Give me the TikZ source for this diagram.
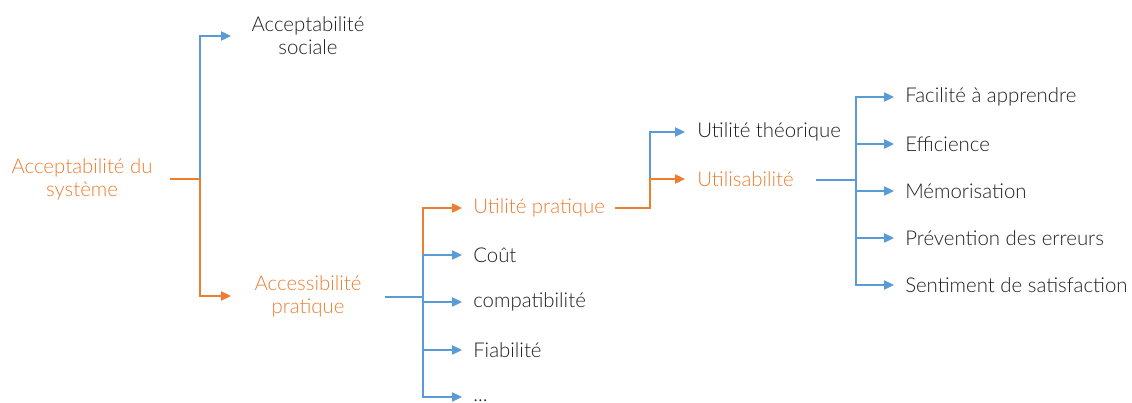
\documentclass[tikz,border=0pt]{standalone}
\usepackage{fontspec}
\setmainfont{Lato Light}
\usetikzlibrary{arrows.meta}
\definecolor{cblue}{HTML}{5B9BD5}
\definecolor{corange}{HTML}{ED7D31}
\definecolor{ctext}{HTML}{1F1F1F}
\tikzset{
  lbl/.style={inner sep=0pt, text=ctext, font=\fontsize{15.3}{17.2}\selectfont},
  hl/.style={text=corange},
  item/.style={lbl, anchor=west},
  bconn/.style={line width=0.9pt, draw=cblue, -{Triangle[length=7.5pt,width=7pt,fill=cblue]}},
  oconn/.style={line width=0.9pt, draw=corange, -{Triangle[length=7.5pt,width=7pt,fill=corange]}},
}
\begin{document}
\begin{tikzpicture}[x=0.75pt,y=-0.75pt]
\useasboundingbox (0,0) rectangle (1132,403);
% nodes
\node[lbl,hl,align=center] (root) at (82,179) {Acceptabilité du\\système};
\node[lbl,align=center] (soc) at (308,36) {Acceptabilité\\sociale};
\node[lbl,hl,align=center] (acc) at (308,296) {Accessibilité\\pratique};
\node[item,hl] (up) at (473,208) {Utilité pratique};
\node[item] (cout) at (473,255) {Coût};
\node[item] (compat) at (473,302) {compatibilité};
\node[item] (fiab) at (473,350) {Fiabilité};
\node[item] (dots) at (473,400.5) {...};
\node[item] (ut) at (697,132) {Utilité théorique};
\node[item,hl] (usab) at (697,179) {Utilisabilité};
\node[item] (fac) at (905,97) {Facilité à apprendre};
\node[item] (eff) at (905,144) {Efficience};
\node[item] (mem) at (905,191) {Mémorisation};
\node[item] (prev) at (905,238) {Prévention des erreurs};
\node[item] (sent) at (905,285) {Sentiment de satisfaction};
% junction / end coordinates
\coordinate (s1) at (170,179);
\coordinate (j1) at (200,179);
\coordinate (e1) at (231,0);
\coordinate (s2) at (385,297);
\coordinate (j2) at (423,297);
\coordinate (e2) at (462,0);
\coordinate (s3) at (615,208);
\coordinate (j3) at (650,208);
\coordinate (e3) at (685,0);
\coordinate (s4) at (816,180);
\coordinate (j4) at (856,180);
\coordinate (e4) at (894,0);
% level 1
\draw[bconn] (s1) -- (j1) |- (e1 |- soc);
\draw[oconn] (s1) -- (j1) |- (e1 |- acc);
% level 2
\draw[oconn] (s2) -- (j2) |- (e2 |- up);
\draw[bconn] (s2) -- (j2) |- (e2 |- cout);
\draw[bconn] (s2) -- (j2) |- (e2 |- compat);
\draw[bconn] (s2) -- (j2) |- (e2 |- fiab);
\draw[bconn] (s2) -- (j2) |- (e2 |- 0,397);
% level 3
\draw[bconn] (s3) -- (j3) |- (e3 |- ut);
\draw[oconn] (s3) -- (j3) |- (e3 |- usab);
% level 4
\draw[bconn] (s4) -- (j4) |- (e4 |- fac);
\draw[bconn] (s4) -- (j4) |- (e4 |- eff);
\draw[bconn] (s4) -- (j4) |- (e4 |- mem);
\draw[bconn] (s4) -- (j4) |- (e4 |- prev);
\draw[bconn] (s4) -- (j4) |- (e4 |- sent);
\end{tikzpicture}
\end{document}
